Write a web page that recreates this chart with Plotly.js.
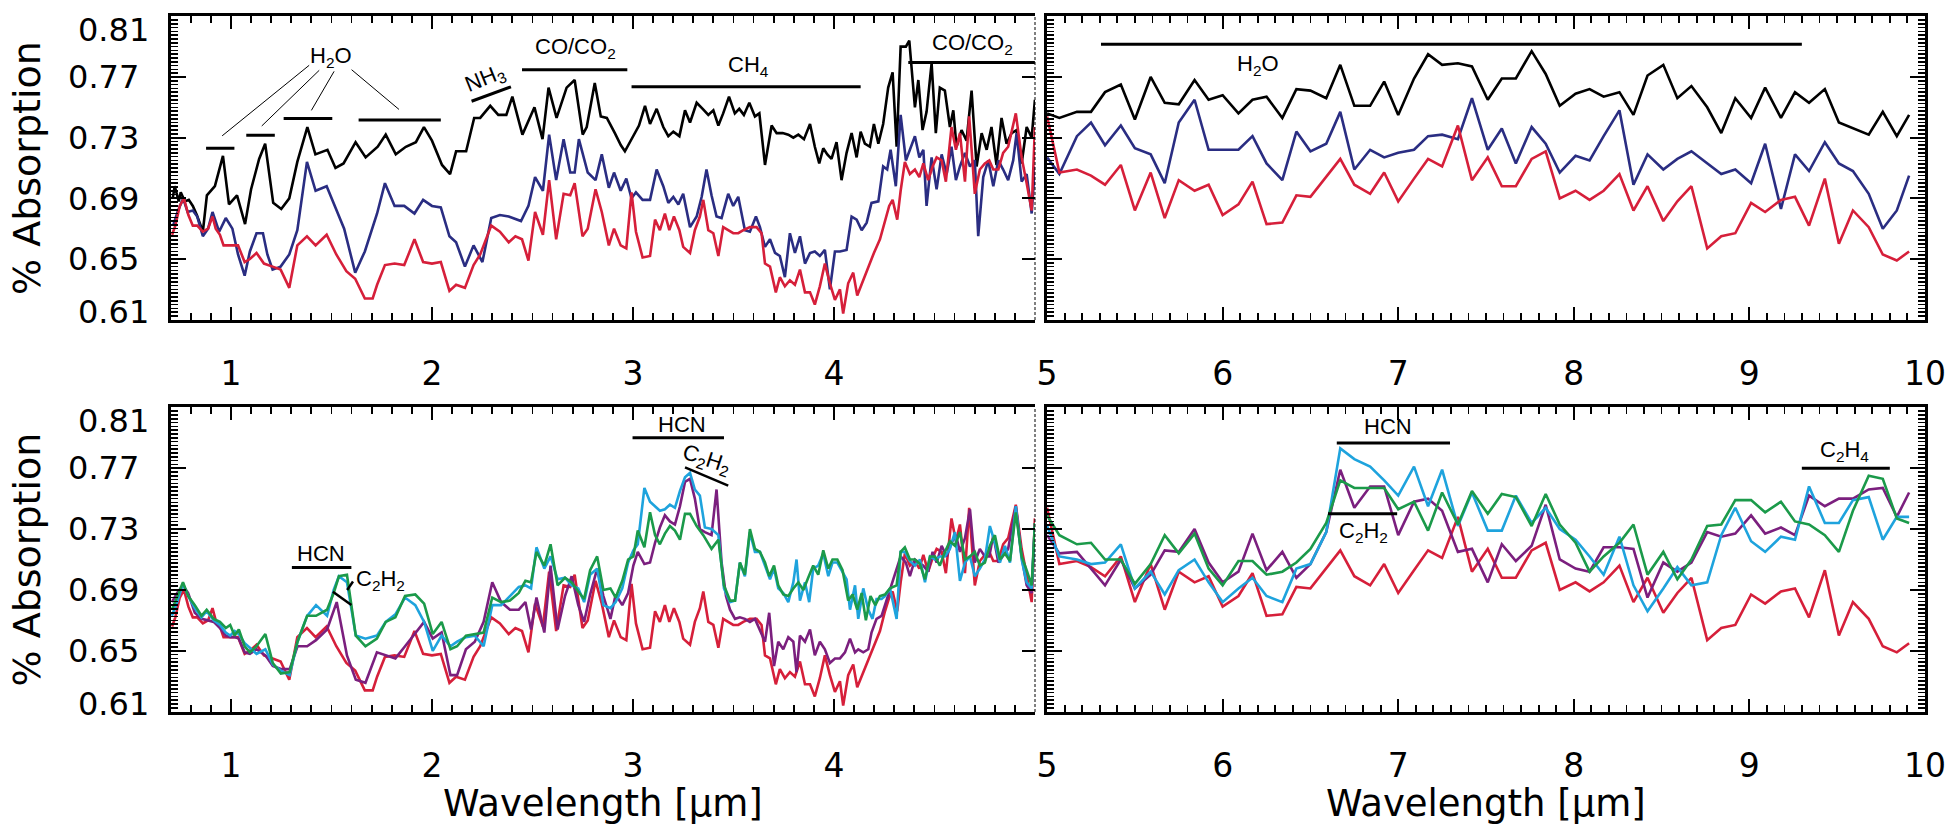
<!DOCTYPE html>
<html><head><meta charset="utf-8">
<script src="https://cdn.plot.ly/plotly-3.0.1.min.js"></script>
<style>html,body{margin:0;padding:0;background:#fff}#chart{width:1950px;height:826px}</style>
</head><body><div id="chart"></div>
<script>
// ---------------- DATA ----------------
// Left panels (0.7 - 5 micron)
const blackLeftX = [0.71,0.72,0.74,0.75,0.77,0.79,0.81,0.83,0.86,0.88,0.92,0.96,0.99,1.03,1.07,1.10,1.14,1.17,1.21,1.25,1.29,1.33,1.38,1.42,1.48,1.52,1.56,1.62,1.67,1.73,1.77,1.82,1.87,1.92,1.96,2.00,2.05,2.09,2.12,2.17,2.21,2.24,2.29,2.33,2.37,2.40,2.45,2.51,2.55,2.58,2.62,2.67,2.71,2.75,2.77,2.81,2.84,2.87,2.91,2.94,2.96,3.00,3.03,3.06,
3.085,3.118,3.151,3.176,3.201,3.231,3.259,3.284,3.317,3.347,3.375,3.400,3.425,3.449,3.478,3.507,3.529,3.552,3.579,3.607,3.629,3.657,3.690,3.715,3.745,3.773,3.798,3.823,3.851,3.881,3.905,3.927,3.947,3.967,3.988,4.013,4.038,4.063,4.088,4.113,4.133,4.154,4.179,4.199,4.221,4.245,4.270,4.292,4.312,4.332,4.358,4.375,4.403,4.420,4.441,4.461,4.486,4.507,4.527,4.552,4.577,4.594,4.610,4.635,4.660,4.685,4.710,4.735,4.760,4.784,4.809,4.834,4.859,4.884,4.909,4.934,4.959,4.984,5.000];
const blackLeftY = [0.690,0.698,0.688,0.694,0.688,0.689,0.685,0.679,0.668,0.692,0.698,0.718,0.686,0.692,0.673,0.696,0.716,0.726,0.687,0.683,0.690,0.714,0.737,0.719,0.722,0.710,0.713,0.727,0.717,0.724,0.732,0.719,0.724,0.727,0.737,0.728,0.712,0.706,0.721,0.721,0.743,0.743,0.751,0.745,0.745,0.757,0.732,0.750,0.729,0.763,0.743,0.763,0.768,0.732,0.737,0.766,0.744,0.743,0.733,0.725,0.721,0.731,0.738,0.751,
0.739,0.749,0.737,0.731,0.734,0.731,0.748,0.740,0.753,0.749,0.745,0.748,0.738,0.746,0.757,0.746,0.749,0.745,0.753,0.744,0.746,0.712,0.738,0.733,0.733,0.732,0.730,0.732,0.729,0.739,0.724,0.713,0.723,0.719,0.716,0.727,0.702,0.720,0.733,0.717,0.734,0.726,0.724,0.739,0.726,0.739,0.763,0.773,0.724,0.790,0.790,0.794,0.750,0.768,0.735,0.747,0.779,0.733,0.763,0.761,0.737,0.748,0.724,0.735,0.728,0.761,0.711,0.733,0.722,0.737,0.712,0.743,0.726,0.733,0.735,0.713,0.737,0.730,0.755];

const blueLeftX = [0.712,0.734,0.762,0.784,0.810,0.832,0.860,0.886,0.908,0.941,0.974,1.007,1.035,1.068,1.094,1.127,1.159,1.181,1.207,1.247,1.290,1.330,1.378,1.421,1.476,1.524,1.563,1.618,1.666,1.727,1.766,1.814,1.862,1.913,1.956,2.000,2.044,2.087,2.120,2.164,2.207,2.251,2.295,2.338,2.382,2.443,2.480,2.513,2.552,2.583,2.618,2.655,2.688,2.710,2.731,2.775,2.814,2.845,2.880,2.906,2.939,2.967,2.993,3.015,3.048,
3.085,3.118,3.151,3.176,3.201,3.226,3.250,3.284,3.317,3.342,3.366,3.391,3.416,3.441,3.474,3.499,3.524,3.557,3.582,3.612,3.632,3.657,3.682,3.707,3.731,3.756,3.781,3.806,3.831,3.856,3.881,3.905,3.930,3.955,3.980,4.005,4.030,4.063,4.088,4.113,4.138,4.163,4.187,4.221,4.245,4.265,4.282,4.308,4.332,4.358,4.378,4.403,4.425,4.445,4.461,4.486,4.511,4.536,4.561,4.585,4.607,4.627,4.652,4.677,4.701,4.718,4.743,4.768,4.793,4.818,4.842,4.867,4.892,4.909,4.934,4.959,4.984,5.000];
const blueLeftY = [0.672,0.681,0.690,0.681,0.682,0.678,0.665,0.670,0.681,0.668,0.677,0.670,0.653,0.639,0.655,0.667,0.667,0.653,0.643,0.645,0.653,0.669,0.714,0.695,0.698,0.683,0.670,0.641,0.655,0.680,0.700,0.685,0.685,0.680,0.689,0.685,0.684,0.665,0.661,0.645,0.659,0.648,0.677,0.679,0.678,0.675,0.685,0.704,0.695,0.732,0.702,0.729,0.707,0.707,0.729,0.707,0.702,0.719,0.697,0.707,0.695,0.703,0.690,0.694,0.689,
0.689,0.709,0.698,0.687,0.691,0.686,0.693,0.671,0.678,0.691,0.709,0.692,0.678,0.677,0.693,0.685,0.691,0.669,0.668,0.678,0.671,0.658,0.663,0.654,0.652,0.638,0.667,0.654,0.665,0.647,0.654,0.655,0.652,0.656,0.630,0.655,0.655,0.656,0.678,0.676,0.669,0.674,0.687,0.688,0.711,0.709,0.722,0.698,0.745,0.715,0.722,0.731,0.717,0.722,0.685,0.717,0.696,0.719,0.706,0.724,0.702,0.711,0.720,0.711,0.715,0.665,0.704,0.715,0.698,0.715,0.709,0.702,0.715,0.733,0.701,0.706,0.680,0.711];

const redLeftX = [0.707,0.723,0.745,0.766,0.788,0.810,0.832,0.860,0.886,0.908,0.924,0.945,0.963,1.007,1.035,1.068,1.094,1.127,1.164,1.207,1.247,1.290,1.330,1.378,1.421,1.476,1.524,1.574,1.618,1.666,1.705,1.727,1.766,1.814,1.862,1.913,1.956,2.000,2.044,2.087,2.120,2.164,2.207,2.240,2.295,2.338,2.382,2.415,2.448,2.480,2.513,2.552,2.583,2.618,2.655,2.688,2.710,2.749,2.775,2.814,2.845,2.880,2.906,2.939,2.967,2.993,3.015,3.048,
3.085,3.110,3.134,3.159,3.181,3.204,3.231,3.250,3.284,3.308,3.333,3.350,3.375,3.400,3.425,3.449,3.474,3.499,3.524,3.549,3.582,3.615,3.640,3.657,3.682,3.711,3.731,3.756,3.781,3.806,3.831,3.856,3.881,3.905,3.930,3.955,3.980,4.005,4.030,4.046,4.071,4.096,4.116,4.146,4.171,4.199,4.229,4.254,4.275,4.292,4.315,4.332,4.353,4.378,4.403,4.425,4.445,4.469,4.491,4.511,4.536,4.557,4.585,4.607,4.627,4.652,4.673,4.701,4.726,4.751,4.773,4.793,4.818,4.842,4.867,4.905,4.934,4.959,4.984,5.000];
const redLeftY = [0.666,0.672,0.685,0.690,0.679,0.672,0.672,0.668,0.670,0.678,0.670,0.666,0.659,0.659,0.659,0.648,0.650,0.654,0.647,0.645,0.643,0.631,0.659,0.665,0.659,0.666,0.653,0.642,0.637,0.624,0.624,0.633,0.646,0.647,0.646,0.663,0.648,0.647,0.648,0.629,0.633,0.631,0.646,0.653,0.672,0.668,0.661,0.665,0.663,0.649,0.681,0.666,0.702,0.663,0.693,0.692,0.700,0.665,0.670,0.696,0.681,0.659,0.670,0.659,0.657,0.694,0.668,0.651,
0.652,0.676,0.669,0.680,0.669,0.678,0.669,0.658,0.654,0.669,0.678,0.689,0.669,0.667,0.652,0.671,0.669,0.667,0.667,0.669,0.671,0.671,0.667,0.647,0.645,0.628,0.638,0.632,0.636,0.633,0.643,0.628,0.628,0.620,0.632,0.647,0.634,0.623,0.630,0.614,0.634,0.641,0.626,0.636,0.645,0.654,0.663,0.676,0.685,0.689,0.676,0.695,0.714,0.706,0.709,0.704,0.713,0.702,0.711,0.717,0.715,0.701,0.737,0.722,0.733,0.701,0.744,0.693,0.709,0.713,0.715,0.709,0.709,0.720,0.724,0.746,0.717,0.700,0.682,0.737];

const greenLeftX = [0.706,0.732,0.761,0.787,0.820,0.853,0.879,0.914,0.945,0.974,0.996,1.018,1.039,1.068,1.094,1.127,1.171,1.208,1.248,1.292,1.331,1.379,1.423,1.478,1.511,1.537,1.577,1.621,1.669,1.726,1.770,1.818,1.866,1.917,1.961,2.004,2.048,2.092,2.125,2.169,2.213,2.257,2.300,2.344,2.388,2.432,2.465,2.493,2.520,2.559,2.590,2.625,2.662,2.695,2.728,2.757,2.787,2.822,2.853,2.888,2.914,2.947,2.976,3.002,3.024,3.057,
3.085,3.110,3.134,3.159,3.184,3.209,3.234,3.259,3.284,3.317,3.350,3.391,3.425,3.453,3.483,3.508,3.532,3.557,3.582,3.607,3.632,3.657,3.678,3.702,3.723,3.748,3.773,3.798,3.823,3.848,3.872,3.897,3.922,3.947,3.972,3.993,4.017,4.043,4.071,4.093,4.116,4.138,4.159,4.182,4.206,4.229,4.254,4.279,4.312,4.332,4.353,4.378,4.403,4.428,4.453,4.478,4.503,4.527,4.552,4.577,4.602,4.627,4.652,4.677,4.701,4.726,4.751,4.776,4.801,4.826,4.851,4.876,4.905,4.934,4.959,4.984,5.000];
const greenLeftY = [0.677,0.686,0.695,0.686,0.680,0.673,0.677,0.671,0.669,0.665,0.667,0.660,0.664,0.653,0.649,0.653,0.661,0.642,0.635,0.636,0.656,0.673,0.673,0.677,0.688,0.699,0.700,0.660,0.653,0.658,0.669,0.672,0.686,0.687,0.681,0.661,0.669,0.651,0.653,0.660,0.661,0.662,0.685,0.682,0.683,0.688,0.696,0.695,0.715,0.706,0.720,0.693,0.698,0.695,0.689,0.684,0.703,0.712,0.690,0.691,0.685,0.696,0.710,0.712,0.729,0.718,
0.741,0.726,0.720,0.727,0.732,0.729,0.723,0.740,0.740,0.732,0.726,0.717,0.723,0.693,0.683,0.683,0.708,0.700,0.730,0.717,0.715,0.708,0.699,0.706,0.693,0.687,0.686,0.691,0.695,0.690,0.698,0.706,0.700,0.716,0.704,0.710,0.710,0.703,0.683,0.687,0.677,0.688,0.670,0.686,0.680,0.686,0.687,0.691,0.693,0.715,0.718,0.710,0.710,0.707,0.697,0.712,0.712,0.706,0.715,0.722,0.719,0.728,0.710,0.712,0.715,0.706,0.708,0.719,0.726,0.710,0.714,0.709,0.741,0.712,0.703,0.693,0.734];

const cyanLeftX = [0.706,0.732,0.761,0.787,0.820,0.853,0.879,0.914,0.945,0.974,0.996,1.018,1.039,1.068,1.094,1.127,1.171,1.208,1.248,1.292,1.331,1.379,1.423,1.478,1.511,1.537,1.577,1.621,1.669,1.726,1.770,1.818,1.866,1.917,1.961,2.004,2.048,2.092,2.125,2.169,2.213,2.257,2.300,2.344,2.388,2.432,2.465,2.493,2.520,2.559,2.590,2.625,2.662,2.695,2.728,2.757,2.787,2.822,2.853,2.888,2.914,2.947,2.976,3.002,3.024,3.057,
3.085,3.110,3.134,3.159,3.184,3.209,3.234,3.259,3.284,3.308,3.333,3.358,3.391,3.425,3.453,3.483,3.508,3.532,3.557,3.582,3.607,3.632,3.657,3.682,3.702,3.723,3.748,3.773,3.798,3.814,3.831,3.856,3.877,3.897,3.922,3.947,3.972,3.993,4.017,4.043,4.063,4.080,4.105,4.121,4.146,4.171,4.192,4.212,4.237,4.254,4.279,4.312,4.332,4.353,4.378,4.403,4.428,4.453,4.478,4.503,4.527,4.552,4.577,4.602,4.627,4.652,4.677,4.701,4.726,4.751,4.776,4.801,4.826,4.851,4.876,4.905,4.934,4.959,4.984,5.000];
const cyanLeftY = [0.673,0.682,0.694,0.686,0.678,0.672,0.676,0.670,0.667,0.662,0.660,0.663,0.661,0.655,0.652,0.648,0.651,0.641,0.637,0.634,0.656,0.673,0.680,0.673,0.690,0.699,0.695,0.660,0.658,0.660,0.669,0.674,0.685,0.680,0.669,0.650,0.660,0.653,0.656,0.659,0.660,0.653,0.680,0.680,0.686,0.692,0.693,0.691,0.718,0.704,0.712,0.697,0.698,0.693,0.691,0.682,0.700,0.704,0.680,0.678,0.682,0.691,0.708,0.716,0.720,0.757,
0.748,0.745,0.742,0.743,0.746,0.744,0.755,0.764,0.767,0.756,0.752,0.731,0.730,0.726,0.691,0.682,0.683,0.708,0.699,0.728,0.715,0.715,0.706,0.697,0.704,0.691,0.688,0.682,0.695,0.710,0.683,0.695,0.682,0.704,0.706,0.714,0.699,0.708,0.708,0.702,0.697,0.677,0.693,0.671,0.691,0.677,0.671,0.684,0.684,0.686,0.691,0.671,0.715,0.715,0.709,0.706,0.710,0.695,0.712,0.710,0.712,0.712,0.717,0.728,0.696,0.708,0.712,0.699,0.704,0.710,0.732,0.721,0.708,0.719,0.708,0.745,0.710,0.695,0.691,0.732];

const purpleLeftX = [0.706,0.732,0.761,0.787,0.820,0.853,0.886,0.914,0.945,0.974,0.996,1.018,1.039,1.068,1.094,1.127,1.171,1.208,1.248,1.292,1.331,1.379,1.423,1.478,1.526,1.577,1.621,1.669,1.726,1.770,1.818,1.866,1.917,1.961,2.004,2.048,2.092,2.125,2.169,2.213,2.257,2.300,2.344,2.388,2.432,2.465,2.493,2.520,2.559,2.590,2.625,2.662,2.695,2.728,2.757,2.787,2.822,2.853,2.888,2.914,2.947,2.976,3.002,3.024,3.057,
3.085,3.110,3.134,3.159,3.184,3.209,3.234,3.259,3.284,3.308,3.333,3.358,3.391,3.416,3.441,3.463,3.483,3.508,3.532,3.557,3.582,3.607,3.632,3.657,3.678,3.702,3.723,3.748,3.773,3.798,3.814,3.831,3.856,3.881,3.905,3.930,3.955,3.980,4.005,4.030,4.055,4.080,4.105,4.121,4.146,4.171,4.187,4.212,4.237,4.259,4.282,4.308,4.332,4.358,4.378,4.403,4.425,4.445,4.469,4.491,4.511,4.536,4.561,4.585,4.607,4.627,4.652,4.677,4.701,4.726,4.751,4.773,4.793,4.818,4.839,4.867,4.905,4.934,4.959,4.984,5.000];
const purpleLeftY = [0.682,0.688,0.693,0.688,0.675,0.671,0.670,0.669,0.665,0.660,0.659,0.659,0.658,0.649,0.648,0.651,0.647,0.640,0.638,0.638,0.653,0.653,0.657,0.664,0.682,0.647,0.631,0.629,0.649,0.647,0.645,0.653,0.662,0.669,0.658,0.662,0.634,0.634,0.651,0.656,0.669,0.695,0.682,0.677,0.677,0.682,0.664,0.685,0.662,0.706,0.664,0.686,0.699,0.680,0.669,0.687,0.704,0.686,0.671,0.687,0.680,0.688,0.706,0.715,0.707,
0.708,0.721,0.731,0.739,0.735,0.733,0.745,0.761,0.763,0.750,0.730,0.728,0.726,0.756,0.708,0.686,0.677,0.671,0.672,0.671,0.669,0.671,0.664,0.656,0.675,0.640,0.656,0.651,0.659,0.656,0.636,0.660,0.656,0.664,0.647,0.656,0.651,0.642,0.645,0.645,0.649,0.658,0.649,0.651,0.649,0.651,0.662,0.671,0.673,0.682,0.691,0.702,0.712,0.708,0.699,0.710,0.708,0.706,0.702,0.715,0.708,0.719,0.712,0.721,0.726,0.715,0.724,0.743,0.708,0.717,0.712,0.712,0.726,0.708,0.712,0.717,0.745,0.712,0.693,0.688,0.734];

// Right panels (5 - 10 micron)
const rightX = [5.00,5.07,5.17,5.25,5.33,5.42,5.50,5.59,5.67,5.75,5.84,5.92,6.00,6.09,6.17,6.25,6.34,6.42,6.50,6.59,6.67,6.75,6.84,6.92,7.00,7.09,7.17,7.25,7.34,7.42,7.51,7.59,7.67,7.76,7.84,7.92,8.01,8.09,8.17,8.26,8.34,8.42,8.51,8.59,8.67,8.76,8.84,8.92,9.01,9.09,9.18,9.26,9.34,9.43,9.51,9.59,9.68,9.76,9.84,9.91];
const blackRightY = [0.746,0.743,0.747,0.747,0.760,0.765,0.742,0.770,0.753,0.752,0.768,0.755,0.758,0.746,0.755,0.757,0.743,0.762,0.761,0.756,0.778,0.751,0.751,0.767,0.745,0.769,0.785,0.778,0.779,0.777,0.755,0.769,0.769,0.787,0.772,0.751,0.759,0.762,0.757,0.760,0.745,0.771,0.778,0.756,0.764,0.750,0.733,0.756,0.743,0.763,0.743,0.760,0.753,0.762,0.740,0.736,0.732,0.747,0.731,0.745];
const blueRightY = [0.717,0.706,0.731,0.740,0.725,0.738,0.723,0.719,0.700,0.740,0.755,0.722,0.722,0.722,0.731,0.713,0.702,0.734,0.721,0.726,0.747,0.709,0.722,0.717,0.720,0.722,0.731,0.732,0.729,0.756,0.722,0.736,0.713,0.737,0.726,0.707,0.718,0.715,0.731,0.748,0.699,0.719,0.709,0.716,0.721,0.713,0.706,0.709,0.700,0.726,0.683,0.719,0.708,0.727,0.713,0.708,0.693,0.670,0.682,0.705];
const redRightY = [0.744,0.707,0.709,0.705,0.699,0.712,0.682,0.707,0.677,0.702,0.695,0.699,0.679,0.686,0.701,0.673,0.674,0.692,0.691,0.704,0.716,0.699,0.693,0.707,0.688,0.703,0.716,0.711,0.738,0.702,0.717,0.698,0.698,0.716,0.721,0.690,0.695,0.689,0.695,0.706,0.682,0.698,0.675,0.688,0.698,0.657,0.665,0.667,0.687,0.681,0.689,0.691,0.672,0.703,0.660,0.682,0.671,0.653,0.649,0.655];
const cyanRightY = [0.732,0.712,0.710,0.707,0.708,0.720,0.691,0.702,0.687,0.703,0.710,0.695,0.682,0.691,0.698,0.686,0.682,0.704,0.707,0.728,0.783,0.776,0.771,0.762,0.752,0.771,0.745,0.769,0.732,0.754,0.729,0.729,0.752,0.734,0.744,0.730,0.723,0.712,0.700,0.725,0.693,0.676,0.691,0.705,0.693,0.695,0.726,0.744,0.722,0.715,0.725,0.723,0.758,0.734,0.734,0.749,0.751,0.723,0.738,0.738];
const greenRightY = [0.739,0.726,0.720,0.721,0.710,0.710,0.694,0.707,0.726,0.714,0.727,0.704,0.693,0.709,0.709,0.700,0.702,0.708,0.717,0.734,0.762,0.757,0.757,0.757,0.743,0.748,0.729,0.754,0.733,0.755,0.740,0.753,0.751,0.732,0.753,0.733,0.721,0.702,0.712,0.721,0.733,0.700,0.715,0.697,0.710,0.732,0.733,0.749,0.749,0.741,0.748,0.735,0.733,0.726,0.715,0.742,0.765,0.763,0.737,0.734];
const purpleRightY = [0.726,0.714,0.715,0.704,0.693,0.710,0.691,0.700,0.716,0.715,0.730,0.708,0.695,0.702,0.727,0.703,0.715,0.698,0.707,0.728,0.769,0.744,0.758,0.758,0.726,0.748,0.750,0.742,0.715,0.717,0.695,0.720,0.709,0.719,0.746,0.710,0.704,0.702,0.718,0.718,0.717,0.685,0.708,0.702,0.708,0.728,0.725,0.727,0.739,0.727,0.731,0.726,0.752,0.745,0.750,0.750,0.756,0.757,0.738,0.754];

// Tick labels
const xTicksLeft = [1,2,3,4,5];
const xTickTextLeft = ['1','2','3','4',''];
const xTicksRight = [5,6,7,8,9,10];
const xTickTextRight = ['5','6','7','8','9','10'];
const yTicks = [0.61,0.65,0.69,0.73,0.77,0.81];
const yTickText = ['','0.65','0.69','0.73','0.77',''];   // inner labels on the axis
const yEndLabels = [['0.61',0.61,8],['0.81',0.81,-14]];  // end labels, nudged inward as in the original

// Molecular band markers [x0, x1, level] and labels [text, x, y, angle]
const bandsTL = [[0.876,1.017,0.723],[1.076,1.218,0.7316],[1.262,1.504,0.7427],[1.635,2.044,0.7416],[2.448,2.972,0.7748],[2.993,4.133,0.7635],[4.370,5.0,0.7795]];
const slantsTL = [[2.197,0.754,2.393,0.7635]];
const leadersTL = [[1.389,0.7777,0.956,0.7312],[1.439,0.7744,1.153,0.7377],[1.513,0.7737,1.400,0.748],[1.600,0.7748,1.836,0.7486]];
const labelsTL = [['H<sub>2</sub>O',1.50,0.783,0],['NH<sub>3</sub>',2.266,0.7687,-22],['CO/CO<sub>2</sub>',2.714,0.7894,0],['CH<sub>4</sub>',3.574,0.7773,0],['CO/CO<sub>2</sub>',4.688,0.7916,0]];
const bandsTR = [[5.307,9.299,0.7916]];
const labelsTR = [['H<sub>2</sub>O',6.199,0.7777,0]];
const bandsBL = [[1.303,1.599,0.7048],[2.998,3.453,0.790]];
const slantsBL = [[1.507,0.6888,1.599,0.6801],[1.578,0.690,1.607,0.6955],[3.259,0.7705,3.474,0.7585]];
const labelsBL = [['HCN',1.447,0.7142,0],['C<sub>2</sub>H<sub>2</sub>',1.746,0.6967,0],['HCN',3.242,0.799,0],['C<sub>2</sub>H<sub>2</sub>',3.366,0.7756,18]];
const bandsBR = [[6.650,7.295,0.7865],[6.600,6.994,0.740],[9.299,9.800,0.770]];
const labelsBR = [['HCN',6.944,0.7975,0],['C<sub>2</sub>H<sub>2</sub>',6.800,0.7278,0],['C<sub>2</sub>H<sub>4</sub>',9.542,0.7815,0]];

// ---------------- STYLE / LAYOUT ----------------
const FONT = 'DejaVu Sans, sans-serif';
const LFONT = 'Liberation Sans Narrow, Liberation Sans, Arial, sans-serif';
const C = {black:'#000000', blue:'#2a2d82', red:'#d61f3a', cyan:'#1ea3dd', green:'#1b9a4a', purple:'#7b1f7e'};
const W = 1950, H = 826;
const px = v => v / W, py = v => 1 - v / H;
const domXL = [px(170.7), px(1035)], domXR = [px(1047), px(1925)];
const domYT = [py(320), py(16)], domYB = [py(712), py(407)];

function tr(x, y, color, xa, ya) {
  return {x: x, y: y, xaxis: xa, yaxis: ya, type: 'scatter', mode: 'lines',
          line: {color: color, width: 2.6}, showlegend: false, hoverinfo: 'skip'};
}
const data = [
  tr(blackLeftX, blackLeftY, C.black, 'x', 'y'),
  tr(blueLeftX, blueLeftY, C.blue, 'x', 'y'),
  tr(redLeftX, redLeftY, C.red, 'x', 'y'),
  tr(rightX, blackRightY, C.black, 'x2', 'y2'),
  tr(rightX, blueRightY, C.blue, 'x2', 'y2'),
  tr(rightX, redRightY, C.red, 'x2', 'y2'),
  tr(redLeftX, redLeftY, C.red, 'x3', 'y3'),
  tr(purpleLeftX, purpleLeftY, C.purple, 'x3', 'y3'),
  tr(cyanLeftX, cyanLeftY, C.cyan, 'x3', 'y3'),
  tr(greenLeftX, greenLeftY, C.green, 'x3', 'y3'),
  tr(rightX, redRightY, C.red, 'x4', 'y4'),
  tr(rightX, purpleRightY, C.purple, 'x4', 'y4'),
  tr(rightX, cyanRightY, C.cyan, 'x4', 'y4'),
  tr(rightX, greenRightY, C.green, 'x4', 'y4'),
  {x: [], y: [], xaxis: 'x', yaxis: 'y5', type: 'scatter', mode: 'lines', showlegend: false, hoverinfo: 'skip'},
  {x: [], y: [], xaxis: 'x3', yaxis: 'y6', type: 'scatter', mode: 'lines', showlegend: false, hoverinfo: 'skip'}
];

function xa(domain, anchor, range, ticks, text) {
  return {domain: domain, anchor: anchor, range: range, tickmode: 'array', tickvals: ticks,
    ticktext: text, ticks: 'inside', ticklen: 13, tickwidth: 2, tickcolor: '#000',
    minor: {ticks: 'inside', tick0: 0, dtick: 0.1, ticklen: 7, tickwidth: 1.8, tickcolor: '#000'},
    showline: true, linewidth: 3, linecolor: '#000', mirror: 'ticks', showgrid: false, zeroline: false,
    tickfont: {family: FONT, size: 33, color: '#000'}, ticklabelstandoff: 22, ticklabeloverflow: 'allow'};
}
function ya(domain, anchor, labels, mirror) {
  return {domain: domain, anchor: anchor, range: [0.6098, 0.8102], tickmode: 'array', tickvals: yTicks,
    ticktext: yTickText, ticks: 'inside', ticklen: 15, tickwidth: 2, tickcolor: '#000',
    minor: {ticks: 'inside', tick0: 0.61, dtick: 0.0025, ticklen: 7, tickwidth: 1.6, tickcolor: '#000'},
    showline: true, linewidth: 3, linecolor: '#000', mirror: mirror, showgrid: false, zeroline: false,
    showticklabels: labels, tickfont: {family: FONT, size: 32, color: '#000'}, ticklabelstandoff: 22,
    ticklabeloverflow: 'allow'};
}
function yOver(over, anchor) {
  return {overlaying: over, anchor: anchor, side: 'right', range: [0.6098, 0.8102], tickmode: 'array',
    tickvals: yTicks, ticks: 'inside', ticklen: 13, tickwidth: 2, tickcolor: '#000',
    showline: false, showticklabels: false, showgrid: false, zeroline: false};
}

const shapes = [];
function addBands(list, xr, yr) {
  list.forEach(b => shapes.push({type: 'line', xref: xr, yref: yr, x0: b[0], x1: b[1], y0: b[2], y1: b[2],
    line: {color: '#000', width: 3}}));
}
function addSegs(list, xr, yr, w) {
  list.forEach(s => shapes.push({type: 'line', xref: xr, yref: yr, x0: s[0], y0: s[1], x1: s[2], y1: s[3],
    line: {color: '#000', width: w}}));
}
addBands(bandsTL, 'x', 'y'); addSegs(slantsTL, 'x', 'y', 3); addSegs(leadersTL, 'x', 'y', 1);
addBands(bandsTR, 'x2', 'y2');
addBands(bandsBL, 'x3', 'y3'); addSegs(slantsBL, 'x3', 'y3', 2.5);
addBands(bandsBR, 'x4', 'y4');
// dashed right edges of the left panels
['x', 'x3'].forEach((x, i) => shapes.push({type: 'line', xref: x + ' domain', yref: (i ? 'y3' : 'y') + ' domain',
  x0: 1, x1: 1, y0: 0, y1: 1, line: {color: '#000', width: 1, dash: '3px,2px'}}));

const annotations = [];
function addLabels(list, xr, yr) {
  list.forEach(l => annotations.push({text: l[0], x: l[1], y: l[2], xref: xr, yref: yr, textangle: l[3],
    showarrow: false, xanchor: 'center', yanchor: 'middle', font: {family: LFONT, size: 22, color: '#000'}}));
}
addLabels(labelsTL, 'x', 'y'); addLabels(labelsTR, 'x2', 'y2');
addLabels(labelsBL, 'x3', 'y3'); addLabels(labelsBR, 'x4', 'y4');
['y', 'y3'].forEach(yr => yEndLabels.forEach(e => annotations.push({text: e[0], xref: 'paper', yref: yr,
  x: px(150.5), y: e[1], yshift: e[2], showarrow: false, xanchor: 'right', yanchor: 'middle',
  font: {family: FONT, size: 32, color: '#000'}})));
[domYT, domYB].forEach(d => annotations.push({text: '% Absorption', xref: 'paper', yref: 'paper',
  x: px(27), y: (d[0] + d[1]) / 2, textangle: -90, showarrow: false, xanchor: 'center', yanchor: 'middle',
  font: {family: FONT, size: 38, color: '#000'}}));
[domXL, domXR].forEach(d => annotations.push({text: 'Wavelength [μm]', xref: 'paper', yref: 'paper',
  x: (d[0] + d[1]) / 2, y: py(803), showarrow: false, xanchor: 'center', yanchor: 'middle',
  font: {family: FONT, size: 37, color: '#000'}}));

const layout = {
  width: W, height: H, margin: {l: 0, r: 0, t: 0, b: 0}, paper_bgcolor: '#fff', plot_bgcolor: '#fff',
  showlegend: false, font: {family: FONT, color: '#000'},
  xaxis: xa(domXL, 'y', [0.7, 5.0005], xTicksLeft, xTickTextLeft),
  yaxis: ya(domYT, 'x', true, false),
  xaxis2: xa(domXR, 'y2', [4.9995, 10.0005], xTicksRight, xTickTextRight),
  yaxis2: ya(domYT, 'x2', false, 'ticks'),
  xaxis3: xa(domXL, 'y3', [0.7, 5.0005], xTicksLeft, xTickTextLeft),
  yaxis3: ya(domYB, 'x3', true, false),
  xaxis4: xa(domXR, 'y4', [4.9995, 10.0005], xTicksRight, xTickTextRight),
  yaxis4: ya(domYB, 'x4', false, 'ticks'),
  yaxis5: yOver('y', 'x'),
  yaxis6: yOver('y3', 'x3'),
  shapes: shapes, annotations: annotations
};
Plotly.newPlot('chart', data, layout, {displayModeBar: false, staticPlot: true});
</script></body></html>
